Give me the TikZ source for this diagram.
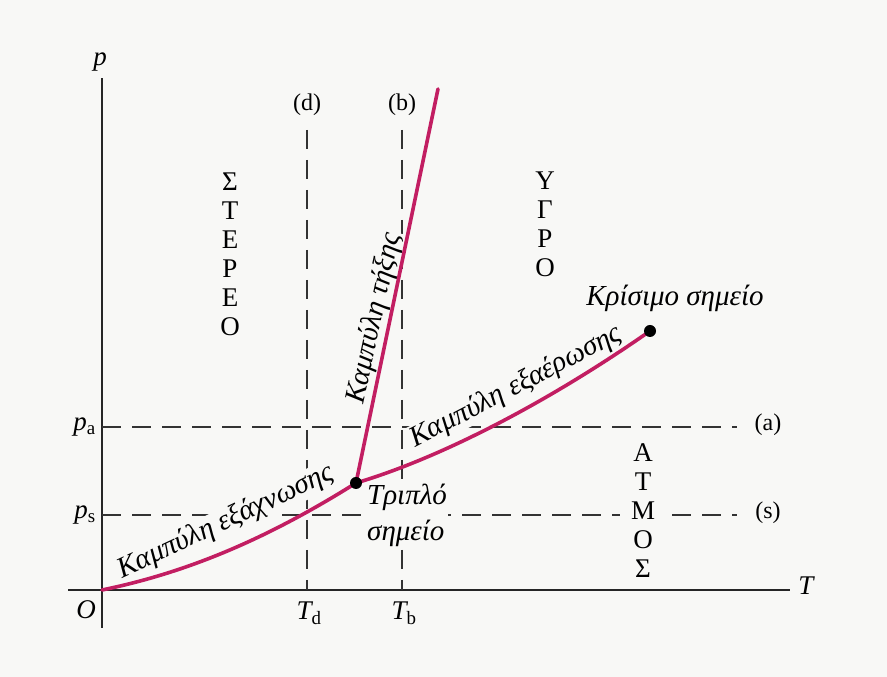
\documentclass[tikz,border=0pt]{standalone}
\usepackage{fontspec}
\setmainfont{Liberation Serif}
\definecolor{bg}{HTML}{F8F8F6}
\definecolor{curvec}{HTML}{C21E62}
\begin{document}
\begin{tikzpicture}[x=1pt,y=1pt,
  axis/.style={line width=1.4pt, draw=black!85},
  guide/.style={line width=1.1pt, draw=black!80, dash pattern=on 19pt off 11pt},
  curve/.style={line width=3.6pt, draw=curvec, line cap=round},
  dot/.style={circle, fill=black, inner sep=0pt, minimum size=12pt},
  ax/.style={font=\itshape\fontsize{27}{30}\selectfont, inner sep=1pt},
  caplab/.style={font=\fontsize{24}{28}\selectfont, inner sep=1pt},
  phase/.style={font=\fontsize{27}{29}\selectfont, align=center, fill=bg, inner sep=1pt},
  clabel/.style={font=\itshape\fontsize{29}{36}\selectfont, fill=bg, inner sep=1pt},
]
\fill[bg] (0,0) rectangle (887,677);
\useasboundingbox (0,0) rectangle (887,677);
% key points
\coordinate (O) at (102,87);
\coordinate (ytop) at (102,599);
\coordinate (ybot) at (102,49);
\coordinate (xl) at (68,87);
\coordinate (xr) at (790,87);
\coordinate (tp) at (356,194);
\coordinate (cp) at (650,346);
\coordinate (mtop) at (438,588);
\coordinate (dtop) at (307,547);
\coordinate (dbot) at (307,87);
\coordinate (btop) at (402,547);
\coordinate (bbot) at (402,87);
\coordinate (al) at (102,250);
\coordinate (ar) at (737,250);
\coordinate (sl) at (102,162);
\coordinate (sr) at (737,162);
% axes
\draw[axis] (ybot) -- (ytop);
\draw[axis] (xl) -- (xr);
% guides
\draw[guide] (dtop) -- (dbot);
\draw[guide] (btop) -- (bbot);
\draw[guide] (al) -- (ar);
\draw[guide] (sl) -- (sr);
% axis labels
\node[ax] (plab) at (100,615) {p};
\node[ax] (Tlab) at (806,91) {T};
\node[ax] (Olab) at (86,67) {O};
\node[ax, anchor=east] (pa) at (97,250) {p\textsubscript{\upshape a}};
\node[ax, anchor=east] (ps) at (97,162) {p\textsubscript{\upshape s}};
\node[ax, anchor=north] (Td) at (309,76) {T\textsubscript{\upshape d}};
\node[ax, anchor=north] (Tb) at (404,76) {T\textsubscript{\upshape b}};
\node[caplab] (dl) at (307,572) {(d)};
\node[caplab] (bl) at (402,572) {(b)};
\node[caplab] (alab) at (768,252) {(a)};
\node[caplab] (slab) at (768,164) {(s)};
% phases
\node[phase] (solid) at (230,423) {Σ\\Τ\\Ε\\Ρ\\Ε\\Ο};
\node[phase] (liquid) at (545,453) {Υ\\Γ\\Ρ\\Ο};
\node[phase, inner xsep=11pt] (vapor) at (643,166) {Α\\Τ\\Μ\\Ο\\Σ};
% curve labels
\node[clabel, rotate=25] (subl) at (226,155) {Καμπύλη εξάχνωσης};
\node[clabel, rotate=78] (melt) at (375,359) {Καμπύλη τήξης};
\node[clabel, rotate=27.5] (vap) at (516,290) {Καμπύλη εξαέρωσης};
\node[clabel, align=left, anchor=west] (tpl) at (366,162) {Τριπλό\\σημείο};
\node[clabel, fill=none] (cpl) at (675,379) {Κρίσιμο σημείο};
% curves
\draw[curve] (O) .. controls (190,105) and (270,140) .. (tp);
\draw[curve] (tp) -- (mtop);
\draw[curve] (tp) .. controls (450,222) and (560,283) .. (cp);
% points
\node[dot] (tpd) at (tp) {};
\node[dot] (cpd) at (cp) {};
\end{tikzpicture}
\end{document}
